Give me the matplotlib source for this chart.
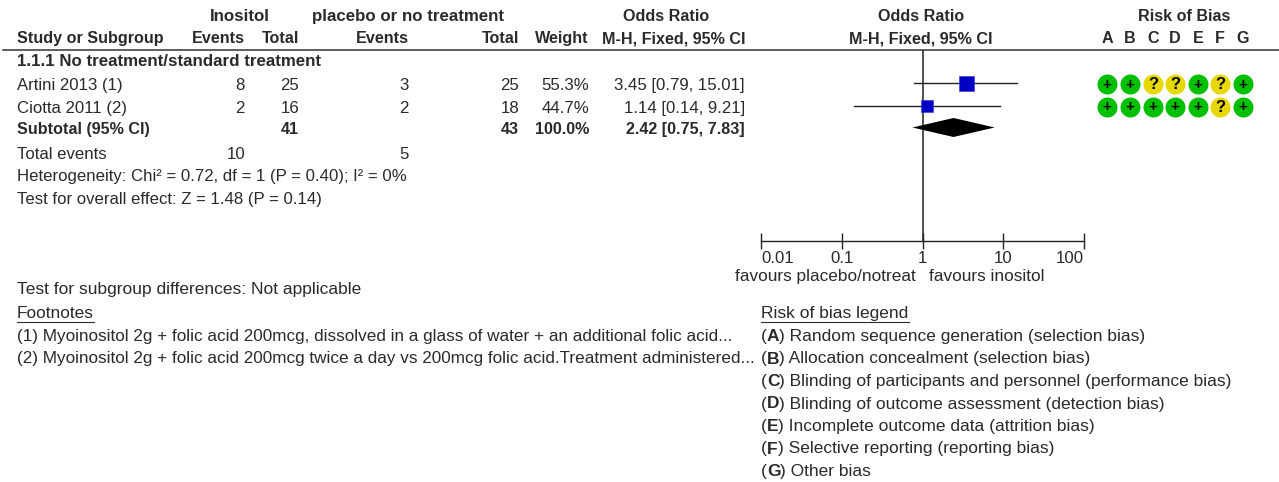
import matplotlib
matplotlib.use("Agg")
import matplotlib.pyplot as plt

plt.rcParams["font.family"] = ["Liberation Sans", "DejaVu Sans"]

W, H = 1279, 482
FS = 12.1
FS_BOLD = 11.65
FS_BOLD_WIDE = 12.15
FS_WIDE = 12.4
FS_LEGEND = 12.55
TXT = "#2a2a2a"

studies = ["Artini 2013 (1)", "Ciotta 2011 (2)"]
ino_events = [8, 2]
ino_total = [25, 16]
ctl_events = [3, 2]
ctl_total = [25, 18]
weights = ["55.3%", "44.7%"]
or_text = ["3.45 [0.79, 15.01]", "1.14 [0.14, 9.21]"]
or_mean = [3.45, 1.14]
or_low = [0.79, 0.14]
or_high = [15.01, 9.21]
square_px = [15, 12]

sub_mean, sub_low, sub_high = 2.42, 0.75, 7.83
sub_text = "2.42 [0.75, 7.83]"

rob_cols = ["A", "B", "C", "D", "E", "F", "G"]
rob_rows = [["+", "+", "?", "?", "+", "?", "+"],
            ["+", "+", "+", "+", "+", "?", "+"]]
legend_items = [("A", "Random sequence generation (selection bias)"),
                ("B", "Allocation concealment (selection bias)"),
                ("C", "Blinding of participants and personnel (performance bias)"),
                ("D", "Blinding of outcome assessment (detection bias)"),
                ("E", "Incomplete outcome data (attrition bias)"),
                ("F", "Selective reporting (reporting bias)"),
                ("G", "Other bias")]
footnotes = ["(1) Myoinositol 2g + folic acid 200mcg, dissolved in a glass of water + an additional folic acid...",
             "(2) Myoinositol 2g + folic acid 200mcg twice a day vs 200mcg folic acid.Treatment administered..."]
x_ticks = [0.01, 0.1, 1, 10, 100]
x_labels = ["0.01", "0.1", "1", "10", "100"]

fig = plt.figure(figsize=(W / 100, H / 100), dpi=100)
ax = fig.add_axes([0, 0, 1, 1])
ax.set_xlim(0, W)
ax.set_ylim(H, 0)
ax.axis("off")


def put(x, y, s, ha="left", bold=False, size=None):
    if size is None:
        size = FS_BOLD if bold else FS
    return ax.text(x, y + 0.5, s, ha=ha, va="center", fontsize=size, color=TXT,
                   fontweight="bold" if bold else "normal")


# header
put(240, 16, "Inositol", "center", True, FS_BOLD_WIDE)
put(408.5, 16, "placebo or no treatment", "center", True, FS_BOLD_WIDE)
put(666.5, 16, "Odds Ratio", "center", True)
put(921.5, 16, "Odds Ratio", "center", True)
put(1184, 16, "Risk of Bias", "center", True)
put(17, 38, "Study or Subgroup", bold=True)
put(245, 38, "Events", "right", True)
put(299, 38, "Total", "right", True)
put(409, 38, "Events", "right", True)
put(519, 38, "Total", "right", True)
put(589, 38, "Weight", "right", True)
put(745, 38, "M-H, Fixed, 95% CI", "right", True)
put(921, 38, "M-H, Fixed, 95% CI", "center", True)
ax.plot([3, W], [49.5, 49.5], color="#333333", lw=1.1)

put(17, 61, "1.1.1 No treatment/standard treatment", bold=True, size=FS_BOLD_WIDE)

row_y = [85, 108]
for i, y in enumerate(row_y):
    put(17, y, studies[i])
    put(245, y, str(ino_events[i]), "right")
    put(299, y, str(ino_total[i]), "right")
    put(409, y, str(ctl_events[i]), "right")
    put(519, y, str(ctl_total[i]), "right")
    put(589, y, weights[i], "right")
    put(745, y, or_text[i], "right")

put(17, 129, "Subtotal (95% CI)", bold=True)
put(299, 129, str(sum(ino_total)), "right", True)
put(519, 129, str(sum(ctl_total)), "right", True)
put(589, 129, "100.0%", "right", True)
put(745, 129, sub_text, "right", True)

put(17, 154, "Total events")
put(245, 154, str(sum(ino_events)), "right")
put(409, 154, str(sum(ctl_events)), "right")
put(17, 176, "Heterogeneity: Chi² = 0.72, df = 1 (P = 0.40); I² = 0%")
put(17, 199, "Test for overall effect: Z = 1.48 (P = 0.14)")
put(17, 289, "Test for subgroup differences: Not applicable", size=FS_LEGEND)

# footnotes
put(17, 313, "Footnotes", size=FS_WIDE)
ax.plot([17, 94], [321.5, 321.5], color=TXT, lw=0.8)
for y, s in zip([336, 358], footnotes):
    put(17, y, s, size=FS_WIDE - 0.03)

# risk of bias legend
put(761, 313, "Risk of bias legend", size=FS_LEGEND)
ax.plot([761, 909], [321.5, 321.5], color=TXT, lw=0.8)
rend = fig.canvas.get_renderer()
for i, (letter, desc) in enumerate(legend_items):
    y = 336 + i * 22.5
    x = 761
    for s, b in [("(", False), (letter, True), (") " + desc, False)]:
        t = put(x, y, s, bold=b, size=FS_LEGEND)
        x += t.get_window_extent(rend).width

# forest plot on log scale
fx0, fx1, ftop, fbot = 761, 1084, 50, 241
fa = fig.add_axes([fx0 / W, 1 - fbot / H, (fx1 - fx0) / W, (fbot - ftop) / H])
fa.set_xscale("log")
fa.set_xlim(x_ticks[0], x_ticks[-1])
fa.set_ylim(fbot, ftop)
fa.patch.set_alpha(0)
for s in ["top", "left", "right"]:
    fa.spines[s].set_visible(False)
fa.spines["bottom"].set_color("#222222")
fa.spines["bottom"].set_linewidth(1.0)
fa.set_yticks([])
fa.set_xticks(x_ticks)
fa.set_xticklabels(x_labels, fontsize=FS, color=TXT)
fa.minorticks_off()
fa.tick_params(axis="x", direction="inout", length=12, width=1.0, pad=1, color="#222222")
labs = fa.get_xticklabels()
labs[0].set_ha("left")
labs[-1].set_ha("right")

fa.axvline(1, color="#222222", lw=1.1)
marker_y = [83.5, 106]
for i, y in enumerate(marker_y):
    fa.plot([or_low[i], or_high[i]], [y, y], color="#222222", lw=1.0, zorder=2)
    fa.plot(or_mean[i], y, marker="s", ms=square_px[i] * 0.72, mfc="#0000c4",
            mec="#3030e0", mew=0.4, zorder=3, snap=False)
fa.fill([sub_low, sub_mean, sub_high, sub_mean], [127.5, 118, 127.5, 137],
        color="black", lw=0, zorder=3)

put(735, 276, "favours placebo/notreat", size=FS_WIDE)
put(929, 276, "favours inositol", size=FS_WIDE)

# risk of bias table
col_x = [1107, 1130, 1153, 1175, 1198, 1220, 1243]
for c, x in zip(rob_cols, col_x):
    put(x, 38, c, "center", True)
for row, y in zip(rob_rows, [84, 107]):
    for sym, x in zip(row, col_x):
        col = "#00c000" if sym == "+" else "#e6d800"
        ax.plot(x, y, "o", ms=14.4, mfc=col, mec=col, mew=0)
        ax.text(x, y + 0.5, sym, ha="center", va="center",
                fontsize=11 if sym == "+" else 12, fontweight="bold", color="black")

fig.savefig("out.png", dpi=100)
